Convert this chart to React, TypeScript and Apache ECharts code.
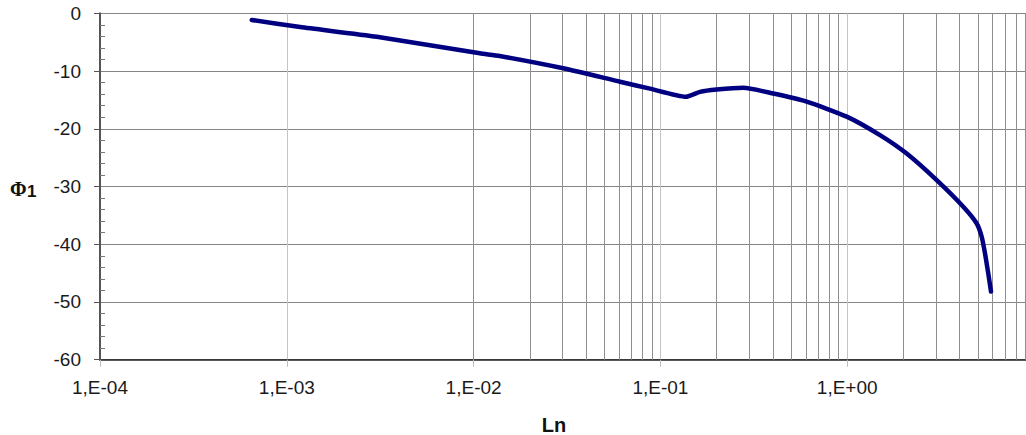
import React, { useEffect, useRef } from 'react';
import * as echarts from 'echarts';

// Data (Ln on a log axis, Φ1 on a linear axis)
const lnValues = [
  6.49e-4, 1.18e-3, 3.03e-3, 0.0108, 0.0138, 0.0302, 0.0608, 0.0879, 0.1371,
  0.1629, 0.2001, 0.2779, 0.4022, 0.607, 0.9938, 1.498, 2.082, 3.013, 4.182,
  4.935, 5.248, 5.467, 5.693, 5.888,
];
const phiValues = [
  -1.16, -2.37, -4.06, -6.93, -7.4, -9.53, -11.85, -13.05, -14.45,
  -13.6, -13.2, -12.9, -13.9, -15.3, -17.9, -21.1, -24.3, -28.9, -33.5,
  -36.4, -38.7, -41.6, -45.1, -48.2,
];

const xMin = 1e-4;
const xMax = 10;
const yMin = -60;
const yMax = 0;
const yStep = 10;
const decadeExponents = [-4, -3, -2, -1, 0];
const minorMultipliers = [2, 3, 4, 5, 6, 7, 8, 9];

const FONT = 'Liberation Sans, Arial, sans-serif';

function formatExp(v: number): string {
  const e = Math.round(Math.log10(v));
  if (e > 0) return '';
  const sign = e < 0 ? '-' : '+';
  const a = Math.abs(e);
  return '1,E' + sign + (a < 10 ? '0' + a : String(a));
}

export default function App() {
  const ref = useRef<HTMLDivElement>(null);

  useEffect(() => {
    if (!ref.current) return;
    const chart = echarts.init(ref.current, undefined, { renderer: 'svg' });

    const minorValues: number[] = [];
    decadeExponents.forEach((e) => {
      minorMultipliers.forEach((m) => {
        minorValues.push(m * Math.pow(10, e));
      });
    });

    const lineData = lnValues.map((x, i) => [x, phiValues[i]]);

    chart.setOption({
      animation: false,
      grid: { left: 100, right: 0, top: 13.3, bottom: 75.3, containLabel: false },
      xAxis: {
        type: 'log',
        logBase: 10,
        min: xMin,
        max: xMax,
        splitNumber: 5,
        axisLine: { show: true, onZero: false, lineStyle: { color: '#222', width: 1.5 } },
        axisTick: { show: true, length: 7, lineStyle: { color: '#bbb', width: 1 } },
        axisLabel: {
          show: true,
          formatter: (v: number) => formatExp(v),
          fontFamily: FONT,
          fontSize: 19,
          color: '#1a1a1a',
          margin: 18,
          showMaxLabel: false,
        },
        splitLine: { show: true, lineStyle: { color: '#c4c4c4', width: 1 } },
      },
      yAxis: [
        {
          type: 'value',
          min: yMin,
          max: yMax,
          interval: yStep,
          axisLine: { show: true, lineStyle: { color: '#555', width: 2 } },
          axisTick: { show: true, length: 6, lineStyle: { color: '#555', width: 1 } },
          axisLabel: {
            fontFamily: FONT,
            fontSize: 19,
            color: '#1a1a1a',
            margin: 19,
          },
          splitLine: { show: true, lineStyle: { color: '#858585', width: 1 } },
        },
        {
          type: 'value',
          min: yMin,
          max: yMax,
          interval: yStep,
          position: 'left',
          axisLine: { show: false },
          axisTick: { show: false, inside: true },
          axisLabel: { show: false },
          splitLine: { show: false },
          minorTick: { show: true, splitNumber: 5, length: 5, lineStyle: { color: '#777', width: 1 } },
        },
      ],
      graphic: [
        {
          type: 'text',
          left: 10,
          top: 179,
          style: {
            text: 'Φ',
            fontFamily: 'Liberation Serif, serif',
            fontWeight: 'bold',
            fontSize: 20,
            fill: '#111',
          },
        },
        {
          type: 'text',
          left: 27,
          top: 183,
          style: {
            text: '1',
            fontFamily: FONT,
            fontWeight: 'bold',
            fontSize: 17,
            fill: '#111',
          },
        },
        {
          type: 'text',
          x: 554,
          y: 425,
          style: {
            text: 'Ln',
            fontFamily: FONT,
            fontWeight: 'bold',
            fontSize: 20,
            fill: '#111',
            align: 'center',
            verticalAlign: 'middle',
          },
        },
      ],
      series: [
        {
          type: 'line',
          data: [],
          xAxisIndex: 0,
          yAxisIndex: 0,
          z: 1,
          silent: true,
          markLine: {
            silent: true,
            animation: false,
            symbol: ['none', 'none'],
            label: { show: false },
            lineStyle: { color: '#8e8e8e', width: 1, type: 'solid' },
            emphasis: { disabled: true },
            data: minorValues.map((v) => ({ xAxis: v })),
          },
        },
        {
          type: 'line',
          data: lineData,
          xAxisIndex: 0,
          yAxisIndex: 0,
          z: 5,
          showSymbol: false,
          symbol: 'none',
          smooth: 0.2,
          lineStyle: { color: '#000080', width: 4.5, cap: 'round', join: 'round' },
        },
      ],
    });

    return () => chart.dispose();
  }, []);

  return (
    <div
      ref={ref}
      style={{ position: 'fixed', left: 0, top: 0, width: 1034, height: 435, background: '#fff' }}
    />
  );
}
